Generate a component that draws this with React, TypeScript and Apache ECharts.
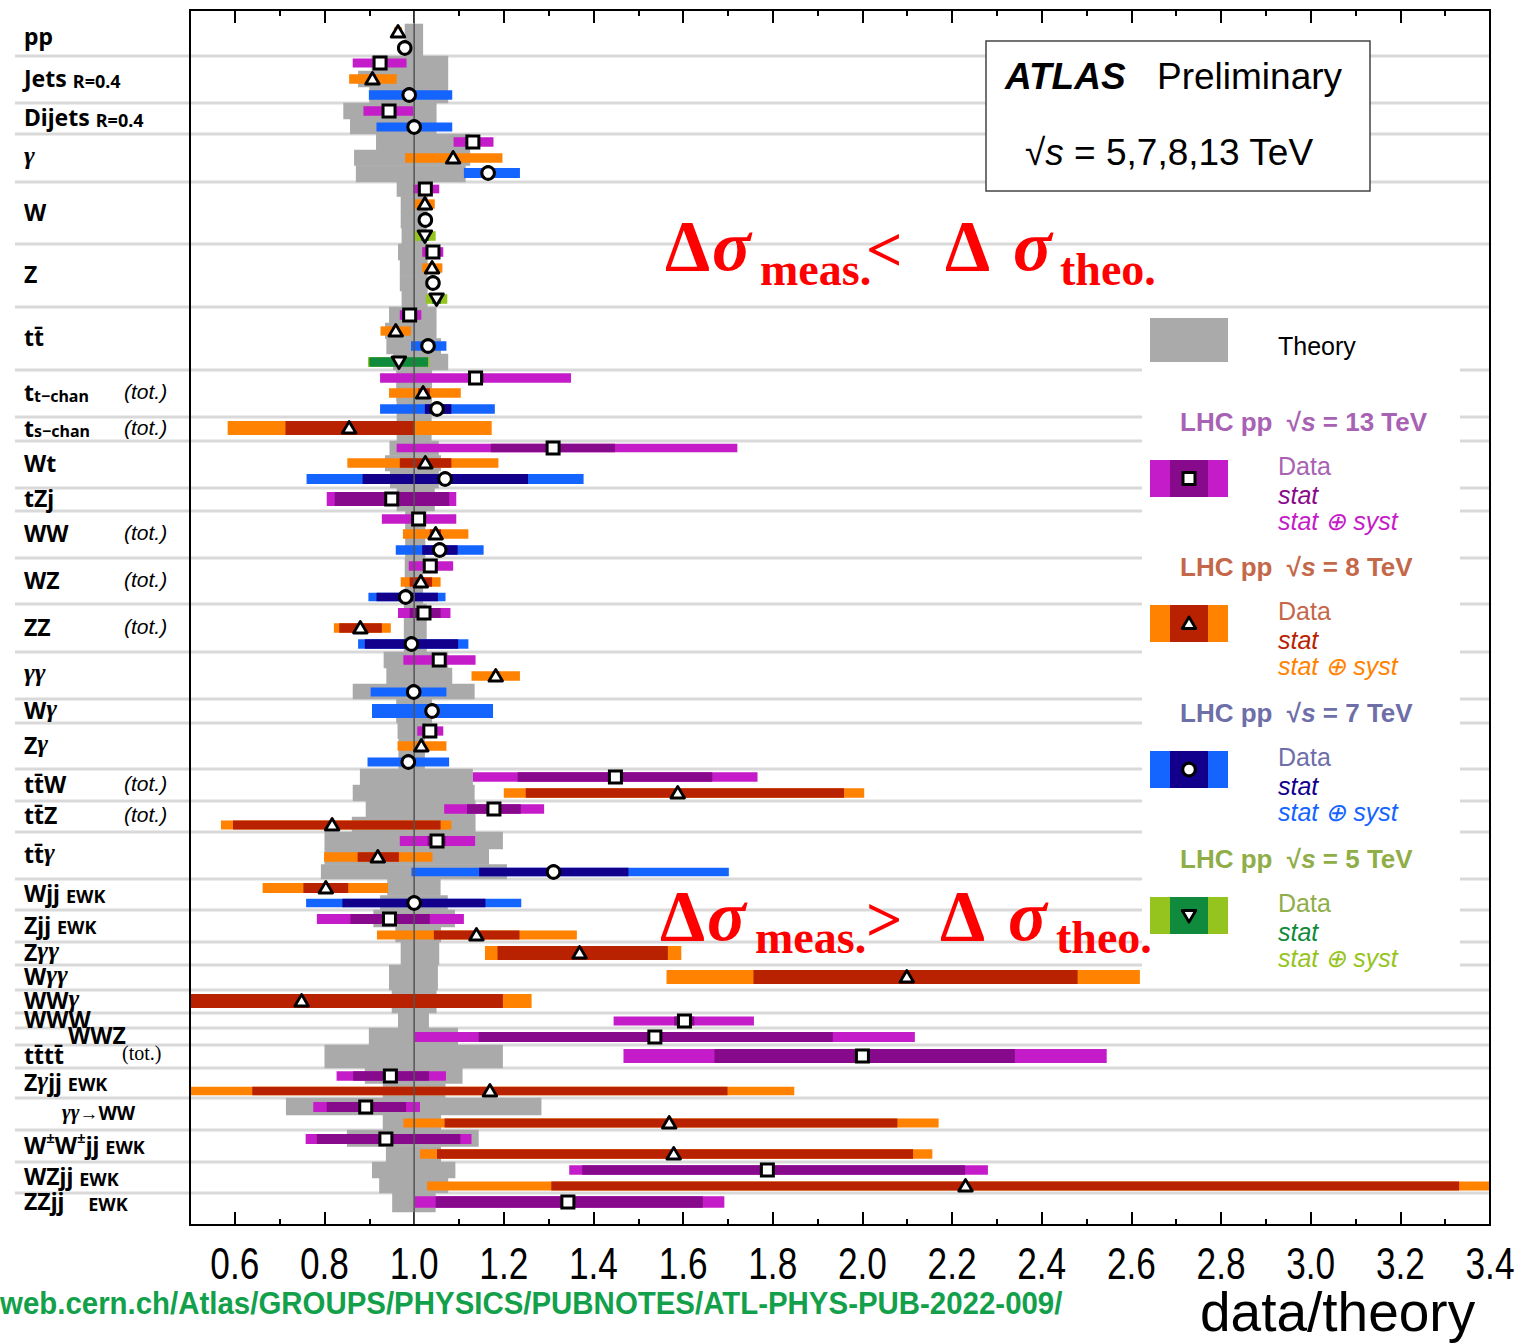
import React, { useEffect, useRef } from 'react';
import * as echarts from 'echarts';

// ---------- axis ticks ----------
const majorTicks = [0.6, 0.8, 1.0, 1.2, 1.4, 1.6, 1.8, 2.0, 2.2, 2.4, 2.6, 2.8, 3.0, 3.2, 3.4];
const minorTicks = [0.7, 0.9, 1.1, 1.3, 1.5, 1.7, 1.9, 2.1, 2.3, 2.5, 2.7, 2.9, 3.1, 3.3];

// ---------- process groups (top to bottom) ----------
const groupLabels = [
  '{b|pp}',
  '{b|Jets} {s|R=0.4}',
  '{b|Dijets} {s|R=0.4}',
  '{g|γ}',
  '{b|W}',
  '{b|Z}',
  '{b|tt̄}',
  '{b|t}{u|t−chan}',
  '{b|t}{u|s−chan}',
  '{b|Wt}',
  '{b|tZj}',
  '{b|WW}',
  '{b|WZ}',
  '{b|ZZ}',
  '{g|γγ}',
  '{b|W}{g|γ}',
  '{b|Z}{g|γ}',
  '{b|tt̄W}',
  '{b|tt̄Z}',
  '{b|tt̄}{g|γ}',
  '{b|Wjj} {s|EWK}',
  '{b|Zjj} {s|EWK}',
  '{b|Z}{g|γγ}',
  '{b|W}{g|γγ}',
  '{b|WW}{g|γ}',
  '{b|WWW}',
  '{b|WWZ}',
  '{b|tt̄tt̄}',
  '{b|Z}{g|γ}{b|jj} {s|EWK}',
  '{kg|γγ}{k|→WW}',
  '{b|W}{p|±}{b|W}{p|±}{b|jj} {s|EWK}',
  '{b|WZjj} {s|EWK}',
  '{b|ZZjj}    {s|EWK}',
];
// vertical extent of each group (row units, top of plot = 10)
const groupTops = [24, 56, 103, 134, 182, 244, 307, 370, 417, 441, 488, 511, 558, 604, 652, 699, 723, 769,
  801, 832, 879, 910, 942, 965, 990, 1013, 1028, 1045, 1068, 1098, 1130, 1162, 1193];
const lastGroupBottom = 1212;
const totGroups = [7, 8, 11, 12, 13, 17, 18];
const totSerifGroups = [27];
const labelIndent: Record<number, number> = { 26: 68, 29: 62 };

// ---------- measurements: [group, rowPos, value, statLo, statHi, systLo, systHi] ----------
const meas13 = [
  [1, 63, 0.924, 0.915, 0.935, 0.863, 0.983],
  [2, 111, 0.944, 0.935, 0.953, 0.887, 0.998],
  [3, 142, 1.131, 1.12, 1.14, 1.088, 1.177],
  [4, 189, 1.025, 1.02, 1.03, 0.998, 1.056],
  [5, 252, 1.042, 1.035, 1.05, 1.018, 1.065],
  [6, 315, 0.99, 0.98, 1.0, 0.968, 1.016],
  [7, 378, 1.137, 1.12, 1.155, 0.924, 1.35],
  [9, 448, 1.31, 1.171, 1.448, 0.961, 1.721],
  [10, 499, 0.95, 0.823, 1.078, 0.805, 1.094],
  [11, 519, 1.01, 0.998, 1.022, 0.928, 1.094],
  [12, 566, 1.036, 1.02, 1.052, 0.988, 1.087],
  [13, 613, 1.022, 0.99, 1.059, 0.964, 1.081],
  [14, 660, 1.056, 1.045, 1.067, 0.976, 1.137],
  [16, 731, 1.035, 1.028, 1.042, 1.007, 1.065],
  [17, 777, 1.449, 1.231, 1.665, 1.131, 1.766],
  [18, 809, 1.178, 1.118, 1.238, 1.067, 1.29],
  [19, 841, 1.051, 1.03, 1.07, 0.968, 1.136],
  [21, 919, 0.945, 0.858, 1.035, 0.783, 1.111],
  [25, 1021, 1.603, 1.58, 1.625, 1.445, 1.758],
  [26, 1037, 1.537, 1.144, 1.934, 1.002, 2.117],
  [27, 1056, 2.0, 1.67, 2.34, 1.467, 2.545],
  [28, 1076, 0.947, 0.864, 1.033, 0.827, 1.071],
  [29, 1107, 0.892, 0.805, 0.982, 0.775, 1.013],
  [30, 1139, 0.937, 0.783, 1.103, 0.758, 1.128],
  [31, 1170, 1.788, 1.375, 2.229, 1.346, 2.28],
  [32, 1202, 1.343, 1.048, 1.644, 1.002, 1.692],
];
const meas8 = [
  [0, 32, 0.964, 0.96, 0.968, 0.955, 0.973],
  [1, 79, 0.907, 0.9, 0.914, 0.855, 0.961],
  [3, 158, 1.087, 1.08, 1.094, 0.98, 1.197],
  [4, 204, 1.024, 1.02, 1.028, 1.001, 1.046],
  [5, 268, 1.04, 1.035, 1.045, 1.018, 1.063],
  [6, 331, 0.959, 0.952, 0.966, 0.925, 0.993],
  [7, 393, 1.02, 1.009, 1.035, 0.944, 1.104],
  [8, 428, 0.855, 0.713, 1.0, 0.584, 1.173],
  [9, 463, 1.025, 0.968, 1.083, 0.851, 1.188],
  [11, 534, 1.048, 1.035, 1.06, 0.975, 1.121],
  [12, 582, 1.015, 0.99, 1.04, 0.97, 1.059],
  [13, 628, 0.88, 0.833, 0.928, 0.821, 0.948],
  [14, 676, 1.182, 1.175, 1.19, 1.128, 1.236],
  [16, 746, 1.016, 1.01, 1.022, 0.963, 1.072],
  [17, 793, 1.588, 1.249, 1.959, 1.2, 2.004],
  [18, 825, 0.817, 0.596, 1.059, 0.569, 1.083],
  [19, 857, 0.919, 0.874, 0.966, 0.799, 1.041],
  [20, 888, 0.803, 0.753, 0.853, 0.662, 0.942],
  [21, 935, 1.139, 1.044, 1.235, 0.917, 1.363],
  [22, 953, 1.369, 1.186, 1.566, 1.158, 1.596],
  [23, 977, 2.099, 1.757, 2.48, 1.563, 2.619],
  [24, 1001, 0.749, 0.3, 1.198, 0.25, 1.262],
  [28, 1091, 1.169, 0.639, 1.699, 0.45, 1.848],
  [29, 1123, 1.569, 1.068, 2.078, 0.976, 2.17],
  [30, 1154, 1.579, 1.051, 2.113, 1.013, 2.156],
  [31, 1186, 2.23, 1.306, 3.331, 1.029, 3.45],
];
const meas7 = [
  [0, 48, 0.979, 0.975, 0.983, 0.97, 0.988],
  [1, 95, 0.989, 0.98, 0.998, 0.899, 1.085],
  [2, 127, 1.0, 0.99, 1.01, 0.916, 1.085],
  [3, 173, 1.165, 1.155, 1.175, 1.111, 1.236],
  [4, 220, 1.025, 1.02, 1.03, 1.012, 1.038],
  [5, 283, 1.042, 1.036, 1.048, 1.03, 1.054],
  [6, 346, 1.031, 1.02, 1.042, 0.993, 1.072],
  [7, 409, 1.051, 1.024, 1.083, 0.924, 1.18],
  [9, 479, 1.069, 0.885, 1.254, 0.76, 1.378],
  [11, 550, 1.057, 1.018, 1.097, 0.959, 1.155],
  [12, 597, 0.981, 0.916, 1.053, 0.898, 1.07],
  [13, 644, 0.994, 0.89, 1.098, 0.875, 1.121],
  [14, 692, 0.999, 0.99, 1.008, 0.903, 1.072],
  [15, 711, 1.04, 1.03, 1.05, 0.906, 1.176],
  [16, 762, 0.987, 0.98, 0.994, 0.896, 1.078],
  [19, 872, 1.311, 1.145, 1.478, 0.994, 1.702],
  [20, 903, 1.0, 0.84, 1.159, 0.759, 1.239],
];
const meas5 = [
  [4, 236, 1.024, 1.015, 1.033, 1.0, 1.048],
  [5, 299, 1.05, 1.04, 1.06, 1.026, 1.074],
  [6, 362, 0.966, 0.9, 1.031, 0.897, 1.034],
];

// ---------- theory uncertainty per row: [group, rowPos, lo, hi] ----------
const theory = [
  [0, 32, 0.979, 1.02], [0, 48, 0.979, 1.02],
  [1, 63, 0.905, 1.076], [1, 79, 0.875, 1.076], [1, 95, 0.9, 1.076],
  [2, 111, 0.842, 1.05], [2, 127, 0.857, 1.05],
  [3, 142, 0.915, 1.125], [3, 158, 0.866, 1.125], [3, 173, 0.87, 1.115],
  [4, 189, 0.961, 1.03], [4, 204, 0.97, 1.03], [4, 220, 0.97, 1.028], [4, 236, 0.972, 1.028],
  [5, 252, 0.964, 1.03], [5, 268, 0.968, 1.03], [5, 283, 0.968, 1.03], [5, 299, 0.972, 1.03],
  [6, 315, 0.944, 1.05], [6, 331, 0.935, 1.05], [6, 346, 0.938, 1.06], [6, 362, 0.953, 1.076],
  [7, 378, 0.96, 1.04], [7, 393, 0.96, 1.04], [7, 409, 0.961, 1.039],
  [8, 428, 0.961, 1.039],
  [9, 448, 0.945, 1.055], [9, 463, 0.935, 1.06], [9, 479, 0.946, 1.055],
  [10, 499, 0.961, 1.046],
  [11, 519, 0.98, 1.025], [11, 534, 0.98, 1.025], [11, 550, 0.98, 1.025],
  [12, 566, 0.979, 1.02], [12, 582, 0.979, 1.02], [12, 597, 0.979, 1.02],
  [13, 613, 0.977, 1.028], [13, 628, 0.977, 1.028], [13, 644, 0.977, 1.028],
  [14, 660, 0.932, 1.076], [14, 676, 0.938, 1.085], [14, 692, 0.863, 1.135],
  [15, 711, 0.96, 1.04],
  [16, 731, 0.963, 1.024], [16, 746, 0.965, 1.024], [16, 762, 0.965, 1.024],
  [17, 777, 0.879, 1.131], [17, 793, 0.863, 1.135],
  [18, 809, 0.892, 1.137], [18, 825, 0.861, 1.137],
  [19, 841, 0.8, 1.198], [19, 857, 0.8, 1.167], [19, 872, 0.792, 1.207],
  [20, 888, 0.94, 1.059], [20, 903, 0.924, 1.075],
  [21, 919, 0.909, 1.091], [21, 935, 0.958, 1.06],
  [22, 953, 0.97, 1.056],
  [23, 977, 0.944, 1.053],
  [24, 1001, 0.95, 1.05],
  [25, 1021, 0.964, 1.033],
  [26, 1037, 0.899, 1.098],
  [27, 1056, 0.8, 1.198],
  [28, 1076, 0.89, 1.108], [28, 1091, 0.93, 1.07],
  [29, 1107, 0.714, 1.284], [29, 1123, 0.93, 1.06],
  [30, 1139, 0.85, 1.144], [30, 1154, 0.937, 1.06],
  [31, 1170, 0.906, 1.092], [31, 1186, 0.922, 1.076],
  [32, 1202, 0.951, 1.048],
];

const energyLabels = ['13', '8', '7', '5'];
const energyMeas = [meas13, meas8, meas7, meas5];

// ---------- styles ----------
const energyStyle = [
  { marker: 'square', stat: '#880a8c', syst: '#c41cc8', head: '#a862b4' },
  { marker: 'up', stat: '#b82200', syst: '#ff8200', head: '#c4684a' },
  { marker: 'circle', stat: '#12008c', syst: '#1464ff', head: '#6e6ea8' },
  { marker: 'down', stat: '#108a3c', syst: '#96c41e', head: '#8fae48' },
];
const THEORY_GRAY = '#aaaaaa';
const SANS = '"Liberation Sans", Arial, sans-serif';
const SERIF = '"Liberation Serif", "Times New Roman", serif';
const LABEL_SANS = '"Noto Sans", "Liberation Sans", sans-serif';

function markerEl(kind: string, x: number, y: number): any {
  const st = { fill: '#fff', stroke: '#000', lineWidth: 3 };
  if (kind === 'square') return { type: 'rect', shape: { x: x - 6, y: y - 6, width: 12, height: 12 }, style: st };
  if (kind === 'circle') return { type: 'circle', shape: { cx: x, cy: y, r: 6.3 }, style: st };
  if (kind === 'up')
    return { type: 'polygon', shape: { points: [[x, y - 6.5], [x - 6.8, y + 5], [x + 6.8, y + 5]] }, style: { ...st, lineWidth: 2.8, lineJoin: 'round' } };
  return { type: 'polygon', shape: { points: [[x, y + 6.5], [x - 6.8, y - 5], [x + 6.8, y - 5]] }, style: { ...st, lineWidth: 2.8, lineJoin: 'round' } };
}

function groupBound(g: number) {
  return [groupTops[g], g + 1 < groupTops.length ? groupTops[g + 1] : lastGroupBottom];
}
function slotOf(g: number, pos: number) {
  const rows = theory.filter((t) => t[0] === g).map((t) => t[1]).sort((a, b) => a - b);
  const i = rows.indexOf(pos);
  const [gt, gb] = groupBound(g);
  const top = i <= 0 ? gt : (rows[i - 1] + pos) / 2;
  const bot = i < 0 || i === rows.length - 1 ? gb : (rows[i + 1] + pos) / 2;
  return [top, bot];
}

const labelRich: any = {
  b: { fontFamily: LABEL_SANS, fontWeight: 'bold', fontSize: 23, lineHeight: 27, verticalAlign: 'bottom', fill: '#000' },
  s: { fontFamily: LABEL_SANS, fontWeight: 'bold', fontSize: 18, lineHeight: 23, verticalAlign: 'bottom', fill: '#000' },
  u: { fontFamily: LABEL_SANS, fontWeight: 'bold', fontSize: 16, lineHeight: 12, verticalAlign: 'bottom', fill: '#000' },
  g: { fontFamily: SERIF, fontStyle: 'italic', fontWeight: 'bold', fontSize: 26, lineHeight: 27, verticalAlign: 'bottom', fill: '#000' },
  p: { fontFamily: LABEL_SANS, fontWeight: 'bold', fontSize: 15, lineHeight: 15, verticalAlign: 'top', fill: '#000' },
  k: { fontFamily: LABEL_SANS, fontWeight: 'bold', fontSize: 19, lineHeight: 24, verticalAlign: 'bottom', fill: '#000' },
  kg: { fontFamily: SERIF, fontStyle: 'italic', fontWeight: 'bold', fontSize: 21, lineHeight: 23, verticalAlign: 'bottom', fill: '#000' },
};

function txt(x: number, y: number, text: string, font: string, fill: string, extra: any = {}, el: any = {}): any {
  return {
    type: 'text', x, y, z: 20, ...el,
    style: { text, font, fill, align: 'left', verticalAlign: 'middle', textAlign: 'left', textVerticalAlign: 'middle', ...extra },
  };
}

function buildOption(): any {
  const series: any[] = [];

  // separators between processes
  series.push({
    type: 'custom', coordinateSystem: 'cartesian2d', clip: false, silent: true, z: 1,
    data: groupTops.slice(1).map((p) => [0.5, p]),
    renderItem: (params: any, api: any) => {
      const cs = params.coordSys;
      const y = api.coord([0.5, api.value(1)])[1];
      return { type: 'line', shape: { x1: 15, y1: y, x2: cs.x + cs.width, y2: y }, style: { stroke: '#d9d9d9', lineWidth: 3 } };
    },
  });

  // theory bands
  series.push({
    type: 'custom', coordinateSystem: 'cartesian2d', clip: true, silent: true, z: 2,
    data: theory.map((t) => {
      const [top, bot] = slotOf(t[0], t[1]);
      return [t[2], t[3], top, bot];
    }),
    renderItem: (params: any, api: any) => {
      const p1 = api.coord([api.value(0), api.value(2)]);
      const p2 = api.coord([api.value(1), api.value(3)]);
      return { type: 'rect', shape: { x: p1[0], y: p1[1] - 0.3, width: p2[0] - p1[0], height: p2[1] - p1[1] + 0.6 }, style: { fill: THEORY_GRAY } };
    },
  });

  // error bars
  energyMeas.forEach((arr, k) => {
    const es = energyStyle[k];
    series.push({
      type: 'custom', coordinateSystem: 'cartesian2d', clip: true, silent: true, z: 3,
      data: arr.map((m) => {
        const [top, bot] = slotOf(m[0], m[1]);
        return [m[5], m[6], m[3], m[4], m[1], top, bot];
      }),
      renderItem: (params: any, api: any) => {
        const pos = api.value(4);
        const slotPx = api.size([0, api.value(6) - api.value(5)])[1];
        const h = Math.min(14, 0.6 * slotPx);
        const a = api.coord([api.value(0), pos]);
        const b = api.coord([api.value(1), pos]);
        const c = api.coord([api.value(2), pos]);
        const d = api.coord([api.value(3), pos]);
        return {
          type: 'group',
          children: [
            { type: 'rect', shape: { x: a[0], y: a[1] - h / 2, width: b[0] - a[0], height: h }, style: { fill: es.syst } },
            { type: 'rect', shape: { x: c[0], y: c[1] - h / 2, width: d[0] - c[0], height: h }, style: { fill: es.stat } },
          ],
        };
      },
    });
  });

  // unity line
  series.push({
    type: 'custom', coordinateSystem: 'cartesian2d', clip: false, silent: true, z: 4,
    data: [[1.0, 10]],
    renderItem: (params: any, api: any) => {
      const cs = params.coordSys;
      const x = api.coord([api.value(0), 10])[0];
      return { type: 'line', shape: { x1: x, y1: cs.y, x2: x, y2: cs.y + cs.height }, style: { stroke: '#555555', lineWidth: 1.5 } };
    },
  });

  // markers
  energyMeas.forEach((arr, k) => {
    const es = energyStyle[k];
    series.push({
      type: 'custom', coordinateSystem: 'cartesian2d', clip: false, silent: true, z: 5,
      data: arr.map((m) => [m[2], m[1]]),
      renderItem: (params: any, api: any) => {
        const p = api.coord([api.value(0), api.value(1)]);
        return markerEl(es.marker, p[0], p[1]);
      },
    });
  });

  // process labels
  series.push({
    type: 'custom', coordinateSystem: 'cartesian2d', clip: false, silent: true, z: 6,
    data: groupLabels.map((_, i) => {
      const [t, b] = groupBound(i);
      return [i, (t + b) / 2];
    }),
    renderItem: (params: any, api: any) => {
      const idx = api.value(0);
      const y = api.coord([0.5, api.value(1)])[1] - (idx === 0 ? 6 : 3.5);
      const children: any[] = [
        {
          type: 'text', x: labelIndent[idx] ?? 24, y,
          style: { text: groupLabels[idx], rich: labelRich, fill: '#000', font: `bold 23px ${LABEL_SANS}`, align: 'left', verticalAlign: 'middle' },
        },
      ];
      if (totGroups.includes(idx)) {
        children.push({ type: 'text', x: 124, y: y + 1.5, style: { text: '(tot.)', font: `italic 21px ${SANS}`, fill: '#000', align: 'left', verticalAlign: 'middle' } });
      }
      if (totSerifGroups.includes(idx)) {
        children.push({ type: 'text', x: 122, y: y, style: { text: '(tot.)', font: `20px ${SERIF}`, fill: '#000', align: 'left', verticalAlign: 'middle' } });
      }
      return { type: 'group', children };
    },
  });

  // x tick labels (condensed look)
  series.push({
    type: 'custom', coordinateSystem: 'cartesian2d', clip: false, silent: true, z: 6,
    data: majorTicks.map((v) => [v, 1225]),
    renderItem: (params: any, api: any) => {
      const v = api.value(0);
      const p = api.coord([v, api.value(1)]);
      return {
        type: 'text', x: p[0], y: p[1] + 39, scaleX: 0.8,
        style: { text: v.toFixed(1), font: `44px ${SANS}`, fill: '#000', align: 'center', verticalAlign: 'middle' },
      };
    },
  });

  // ---------- graphics ----------
  const graphic: any[] = [];
  // frame
  graphic.push({ type: 'rect', z: 30, shape: { x: 190, y: 10, width: 1300, height: 1215 }, style: { fill: 'none', stroke: '#000', lineWidth: 2 } });

  // ATLAS box
  graphic.push({ type: 'rect', z: 15, shape: { x: 986, y: 41, width: 384, height: 150 }, style: { fill: '#fff', stroke: '#444', lineWidth: 1.5 } });
  graphic.push(txt(1005, 76, 'ATLAS', `italic bold 37px ${SANS}`, '#000'));
  graphic.push(txt(1157, 76, 'Preliminary', `37px ${SANS}`, '#000'));
  graphic.push(txt(1025, 152, '{n|√}{i|s}{n| = 5,7,8,13 TeV}', `37px ${SANS}`, '#000', {
    rich: { n: { fontFamily: SANS, fontSize: 37, fill: '#000' }, i: { fontFamily: SANS, fontStyle: 'italic', fontSize: 37, fill: '#000' } },
  }));

  // annotations
  const RED = '#ff0000';
  const annot = (base: number, sub: number, sym: string, xs: number[]) => {
    graphic.push(txt(xs[0], base - 24.3, 'Δ', `bold 72px ${SERIF}`, RED));
    graphic.push(txt(xs[1], base - 24.3, 'σ', `italic bold 72px ${SERIF}`, RED));
    graphic.push(txt(xs[2], sub - 15.2, 'meas.', `bold 46px ${SERIF}`, RED));
    graphic.push(txt(xs[3], base - 21, sym, `bold 64px ${SERIF}`, RED));
    graphic.push(txt(xs[4], base - 24.3, 'Δ', `bold 72px ${SERIF}`, RED));
    graphic.push(txt(xs[5], base - 24.3, 'σ', `italic bold 72px ${SERIF}`, RED));
    graphic.push(txt(xs[6], sub - 15.2, 'theo.', `bold 46px ${SERIF}`, RED));
  };
  annot(270, 285, '<', [665, 712, 760, 866, 945, 1013, 1060]);
  annot(940, 953, '>', [660, 707, 755, 866, 940, 1008, 1056]);

  // legend
  graphic.push({ type: 'rect', z: 15, shape: { x: 1142, y: 312, width: 318, height: 668 }, style: { fill: '#fff' } });
  graphic.push({ type: 'rect', z: 16, shape: { x: 1150, y: 318, width: 78, height: 44 }, style: { fill: THEORY_GRAY } });
  graphic.push(txt(1278, 346, 'Theory', `25px ${SANS}`, '#000'));
  const legendTops = [460, 605, 751, 897];
  energyStyle.forEach((es, k) => {
    const B = legendTops[k];
    graphic.push(txt(1180, B - 38, `{h|LHC pp  √}{hi|s}{h| = ${energyLabels[k]} TeV}`, `bold 26px ${SANS}`, es.head, {
      rich: {
        h: { fontFamily: SANS, fontWeight: 'bold', fontSize: 26, fill: es.head },
        hi: { fontFamily: SANS, fontWeight: 'bold', fontStyle: 'italic', fontSize: 26, fill: es.head },
      },
    }));
    graphic.push({ type: 'rect', z: 16, shape: { x: 1150, y: B, width: 78, height: 37 }, style: { fill: es.syst } });
    graphic.push({ type: 'rect', z: 17, shape: { x: 1170, y: B, width: 38, height: 37 }, style: { fill: es.stat } });
    graphic.push({ ...markerEl(es.marker, 1189, B + 18.5), z: 18 });
    graphic.push(txt(1278, B + 5.5, 'Data', `25px ${SANS}`, es.head));
    graphic.push(txt(1278, B + 34.5, 'stat', `italic 25px ${SANS}`, es.stat));
    graphic.push(txt(1278, B + 60.5, 'stat ⊕ syst', `italic 25px ${SANS}`, es.syst));
  });

  // footer texts
  graphic.push(txt(0, 1303, 'web.cern.ch/Atlas/GROUPS/PHYSICS/PUBNOTES/ATL-PHYS-PUB-2022-009/', `bold 32px ${SANS}`, '#12a04a', {}, { scaleX: 0.92 }));
  graphic.push(txt(1200, 1312, 'data/theory', `55px ${SANS}`, '#000'));

  const axisCommon = { type: 'value', min: 0.5, max: 3.4, splitLine: { show: false }, axisLine: { show: false }, axisLabel: { show: false } };
  return {
    animation: false,
    backgroundColor: '#fff',
    grid: { left: 190, top: 10, width: 1300, height: 1215, show: false },
    xAxis: [
      { ...axisCommon, position: 'bottom', axisTick: { show: true, inside: true, length: 13, lineStyle: { color: '#000', width: 2 }, customValues: majorTicks } },
      { ...axisCommon, position: 'bottom', axisTick: { show: true, inside: true, length: 6, lineStyle: { color: '#000', width: 2 }, customValues: minorTicks } },
      { ...axisCommon, position: 'top', axisTick: { show: true, inside: true, length: 13, lineStyle: { color: '#000', width: 2 }, customValues: majorTicks } },
      { ...axisCommon, position: 'top', axisTick: { show: true, inside: true, length: 6, lineStyle: { color: '#000', width: 2 }, customValues: minorTicks } },
    ],
    yAxis: { type: 'value', min: 10, max: 1225, inverse: true, show: false },
    series,
    graphic,
  };
}

export default function App() {
  const ref = useRef<HTMLDivElement>(null);
  useEffect(() => {
    const chart = echarts.init(ref.current!, null, { renderer: 'svg' });
    chart.setOption(buildOption());
    return () => chart.dispose();
  }, []);
  return <div ref={ref} style={{ position: 'absolute', left: 0, top: 0, width: 1524, height: 1343, background: '#fff' }} />;
}
